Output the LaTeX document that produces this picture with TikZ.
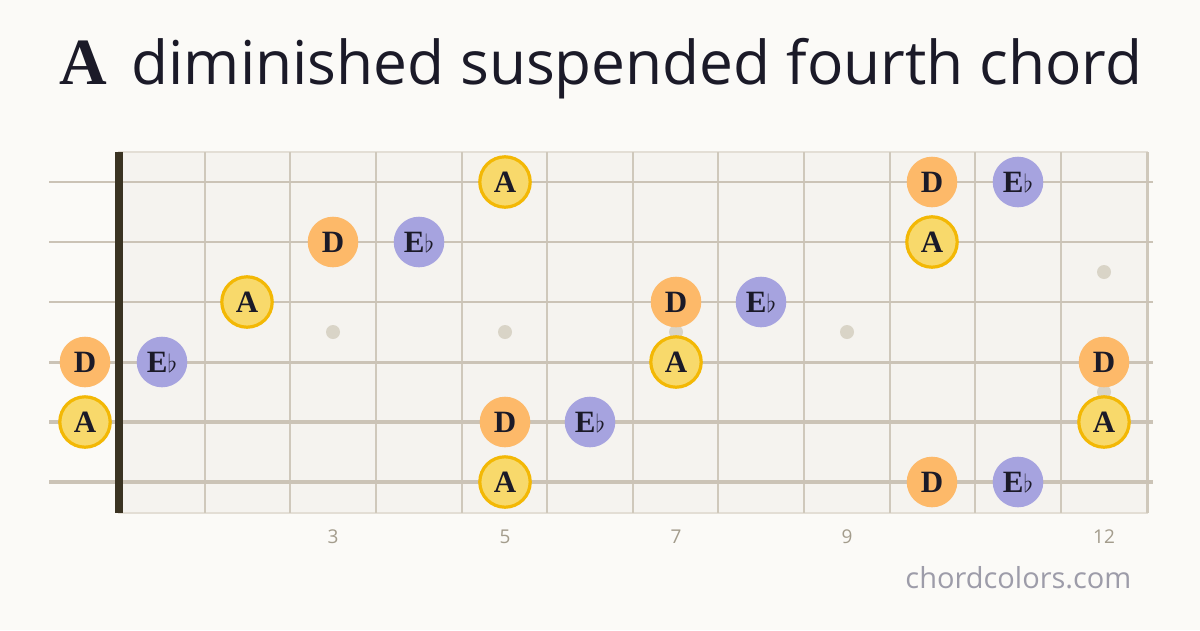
\documentclass[tikz,border=0pt]{standalone}
\usepackage{fontspec}
\setmainfont{Liberation Serif}
\newfontfamily\titulo{Open Sans}

\definecolor{fondo}{HTML}{FBFAF7}
\definecolor{tabla}{HTML}{F5F3EF}
\definecolor{borde}{HTML}{E3DED5}
\definecolor{traste}{HTML}{CFC8BB}
\definecolor{cuerda}{HTML}{CBC3B6}
\definecolor{cejuela}{HTML}{3A3322}
\definecolor{tinta}{HTML}{1B1A28}
\definecolor{amarillo}{HTML}{F8D96B}
\definecolor{oro}{HTML}{F3B805}
\definecolor{naranja}{HTML}{FDB969}
\definecolor{lila}{HTML}{A6A3DF}
\definecolor{punto}{HTML}{D9D4C7}
\definecolor{gris}{HTML}{A39C8C}
\definecolor{web}{HTML}{9D9CA9}

\tikzstyle{nota}= [circle,inner sep=0pt,minimum size=50.6pt,text=tinta,font=\bfseries\fontsize{31}{31}\selectfont]
\tikzstyle{raiz}= [nota,fill=amarillo,draw=oro,line width=3.2pt,minimum size=50.4pt]
\tikzstyle{cuarta}= [nota,fill=naranja]
\tikzstyle{quinta}= [nota,fill=lila]
\tikzstyle{marca}= [circle,fill=punto,inner sep=0pt,minimum size=14pt]
\tikzstyle{numero}= [text=gris,font=\titulo\fontsize{19}{19}\selectfont]

\begin{document}
\begin{tikzpicture}[x=1pt,y=-1pt]

		\fill[fondo] (0,0) rectangle (1200,630);
		\useasboundingbox (0,0) rectangle (1200,630);

		\node[anchor=base,text=tinta] (t) at (601,84) {{\bfseries\fontsize{66}{66}\selectfont A}\hspace{24pt}{\titulo\fontsize{60.4}{60.4}\selectfont diminished suspended fourth chord}};

		% mastil
		\filldraw[fill=tabla,draw=borde,line width=1.5pt] (119,152) rectangle (1147,513);

		\draw[traste,line width=2.5pt] (205,152) -- (205,513);
		\draw[traste,line width=2.5pt] (290,152) -- (290,513);
		\draw[traste,line width=2.5pt] (376,152) -- (376,513);
		\draw[traste,line width=2.5pt] (462,152) -- (462,513);
		\draw[traste,line width=2.5pt] (547,152) -- (547,513);
		\draw[traste,line width=2.5pt] (633,152) -- (633,513);
		\draw[traste,line width=2.5pt] (718,152) -- (718,513);
		\draw[traste,line width=2.5pt] (804,152) -- (804,513);
		\draw[traste,line width=2.5pt] (890,152) -- (890,513);
		\draw[traste,line width=2.5pt] (975,152) -- (975,513);
		\draw[traste,line width=2.5pt] (1061,152) -- (1061,513);
		\draw[traste,line width=3pt] (1147,152) -- (1147,513);

		\draw[cuerda,line width=1.5pt] (49,182) -- (1153,182);
		\draw[cuerda,line width=2pt] (49,242) -- (1153,242);
		\draw[cuerda,line width=2.5pt] (49,302) -- (1153,302);
		\draw[cuerda,line width=3pt] (49,362) -- (1153,362);
		\draw[cuerda,line width=3.5pt] (49,422) -- (1153,422);
		\draw[cuerda,line width=4pt] (49,482) -- (1153,482);

		\fill[cejuela] (115,152) rectangle (123,513);

		\node (p3) at (333,332) [marca] {};
		\node (p5) at (505,332) [marca] {};
		\node (p7) at (676,332) [marca] {};
		\node (p9) at (847,332) [marca] {};
		\node (p12a) at (1104,272) [marca] {};
		\node (p12b) at (1104,392) [marca] {};

		% notas
		\node (a1) at (505,182) [raiz] {A};
		\node (d1) at (932,182) [cuarta] {D};
		\node (e1) at (1018,182) [quinta] {E$\flat$};

		\node (d2) at (333,242) [cuarta] {D};
		\node (e2) at (419,242) [quinta] {E$\flat$};
		\node (a2) at (932,242) [raiz] {A};

		\node (a3) at (247,302) [raiz] {A};
		\node (d3) at (676,302) [cuarta] {D};
		\node (e3) at (761,302) [quinta] {E$\flat$};

		\node (d4) at (85,362) [cuarta] {D};
		\node (e4) at (162,362) [quinta] {E$\flat$};
		\node (a4) at (676,362) [raiz] {A};
		\node (d5) at (1104,362) [cuarta] {D};

		\node (a5) at (85,422) [raiz] {A};
		\node (d6) at (505,422) [cuarta] {D};
		\node (e5) at (590,422) [quinta] {E$\flat$};
		\node (a6) at (1104,422) [raiz] {A};

		\node (a7) at (505,482) [raiz] {A};
		\node (d7) at (932,482) [cuarta] {D};
		\node (e6) at (1018,482) [quinta] {E$\flat$};

		% numeros de traste
		\node (n3) at (333,537) [numero] {3};
		\node (n5) at (505,537) [numero] {5};
		\node (n7) at (676,537) [numero] {7};
		\node (n9) at (847,537) [numero] {9};
		\node (n12) at (1104,537) [numero] {12};

		\node[anchor=base east,text=web,font=\titulo\fontsize{29}{29}\selectfont] (w) at (1135,588) {chordcolors.com};

	\end{tikzpicture}
\end{document}
